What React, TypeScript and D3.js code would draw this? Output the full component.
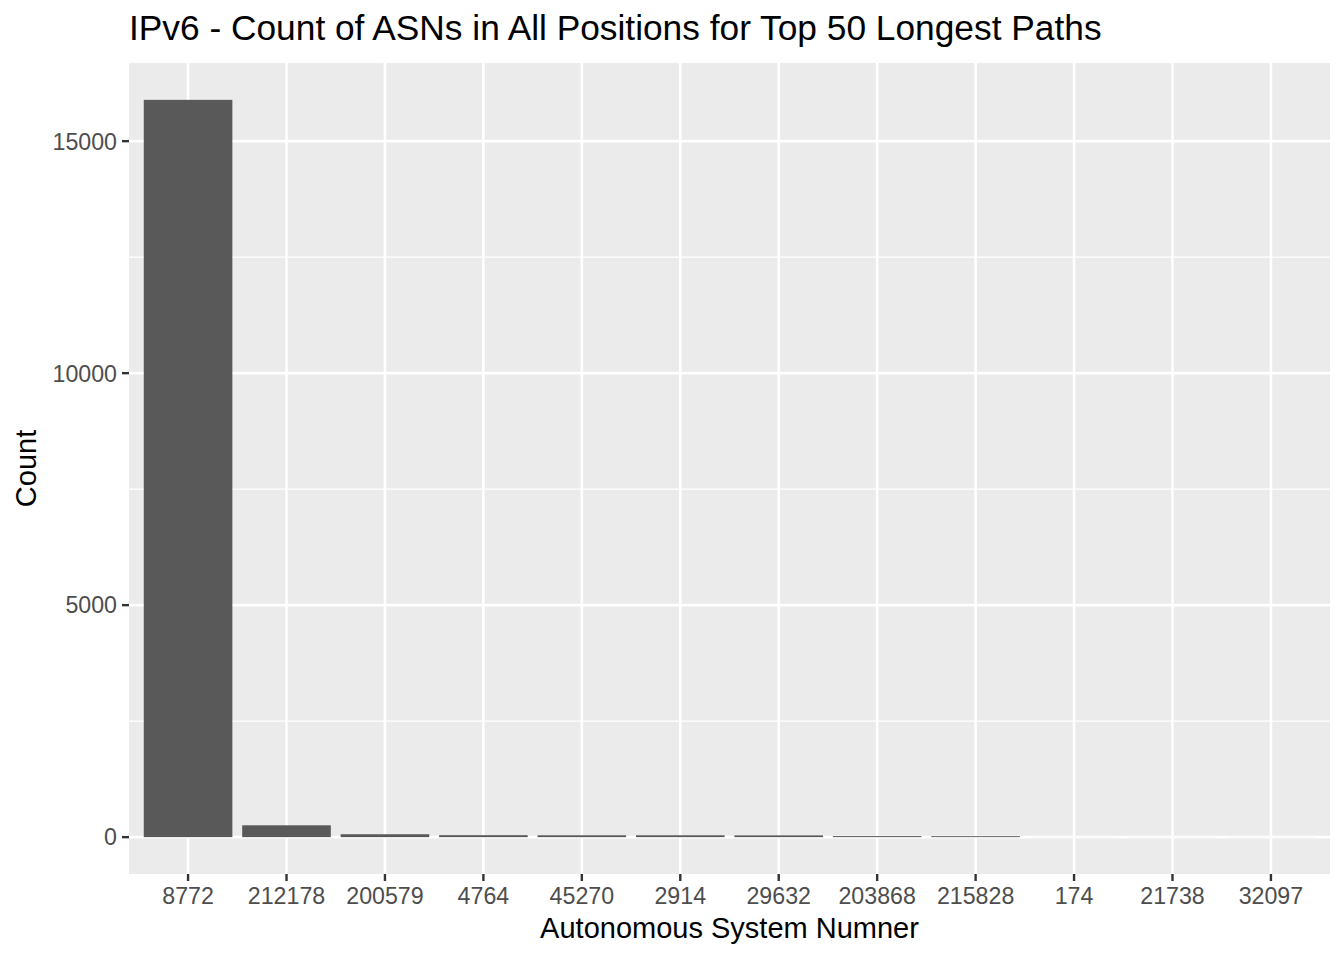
import React, { useEffect } from "react";
import * as d3 from "d3";

const categories = ["8772", "212178", "200579", "4764", "45270", "2914", "29632", "203868", "215828", "174", "21738", "32097"];
const counts = [15890, 255, 62, 42, 40, 40, 38, 22, 20, 1, 1, 1];
const yTicks = [0, 5000, 10000, 15000];
const yMinor = [2500, 7500, 12500];

const W = 1344, H = 960;
const PL = 129, PR = 1330, PT = 63, PB = 874;

export default function App() {
  useEffect(() => { document.body.style.margin = "0"; }, []);
  // ggplot discrete expansion: 0.6 units each side, bar width 0.9
  const n = categories.length;
  const x = d3.scaleLinear().domain([0.4, n + 0.6]).range([PL, PR]);
  const cx = (i: number) => x(i + 1);
  const bw = x(1.9) - x(1);
  const ymax = d3.max(counts)!;
  const pad = ymax * 0.05;
  const y = d3.scaleLinear().domain([-pad, ymax + pad]).range([PB, PT]);
  const font = "'Liberation Sans', Arial, Helvetica, sans-serif";
  return (
    <svg width={W} height={H} style={{ position: "absolute", left: 0, top: 0, background: "#fff" }} fontFamily={font}>
      <rect x={0} y={0} width={W} height={H} fill="#fff" />
      <rect x={PL} y={PT} width={PR - PL} height={PB - PT} fill="#EBEBEB" />
      {yMinor.map((v) => (
        <line key={"m" + v} x1={PL} x2={PR} y1={y(v)} y2={y(v)} stroke="#fff" strokeWidth={1.3} />
      ))}
      {yTicks.map((v) => (
        <line key={"g" + v} x1={PL} x2={PR} y1={y(v)} y2={y(v)} stroke="#fff" strokeWidth={2.6} />
      ))}
      {categories.map((c, i) => (
        <line key={"vx" + c} x1={cx(i)} x2={cx(i)} y1={PT} y2={PB} stroke="#fff" strokeWidth={2.6} />
      ))}
      {categories.map((c, i) => (
        <rect key={"b" + c} x={cx(i) - bw / 2} width={bw} y={y(counts[i])} height={Math.max(0, y(0) - y(counts[i]))} fill="#595959" />
      ))}
      {yTicks.map((v) => (
        <g key={"yt" + v}>
          <line x1={PL - 7} x2={PL} y1={y(v)} y2={y(v)} stroke="#333" strokeWidth={2.4} />
          <text x={PL - 12} y={y(v)} dy="0.36em" textAnchor="end" fontSize={23.2} fill="#4D4D4D">{v}</text>
        </g>
      ))}
      {categories.map((c, i) => (
        <g key={"xt" + c}>
          <line x1={cx(i)} x2={cx(i)} y1={PB} y2={PB + 7} stroke="#333" strokeWidth={2.4} />
          <text x={cx(i)} y={PB + 30} textAnchor="middle" fontSize={23.2} fill="#4D4D4D">{c}</text>
        </g>
      ))}
      <text x={(PL + PR) / 2} y={938} textAnchor="middle" fontSize={29} fill="#000">Autonomous System Numner</text>
      <text transform={`translate(36, ${(PT + PB) / 2}) rotate(-90)`} textAnchor="middle" fontSize={29} fill="#000">Count</text>
      <text x={PL} y={40} fontSize={35.3} fill="#000">IPv6 - Count of ASNs in All Positions for Top 50 Longest Paths</text>
    </svg>
  );
}
